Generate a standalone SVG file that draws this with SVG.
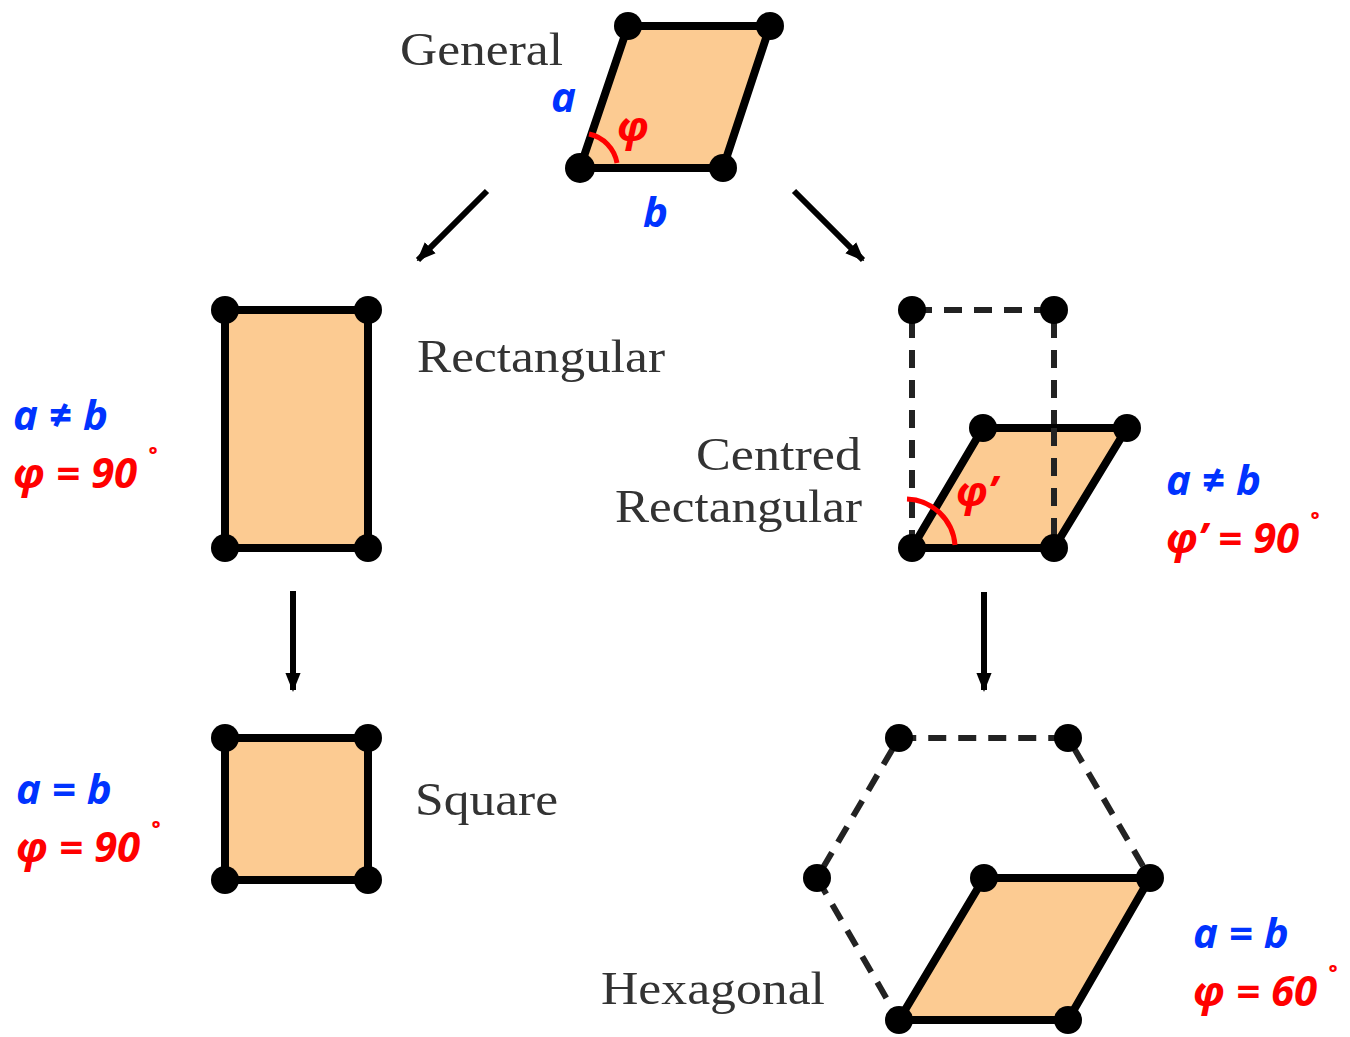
<svg xmlns="http://www.w3.org/2000/svg" width="1350" height="1037" viewBox="0 0 1350 1037">
<defs>
<style>
.cell{fill:#FCCB92;stroke:#000;stroke-width:8;stroke-linejoin:round}
.dash{fill:none;stroke:#222;stroke-width:6;stroke-dasharray:18 12}
.dot{fill:#000}
.name{font-family:"Liberation Serif",serif;font-size:46px;fill:#333}
.lb{font-family:"Open Sans","Liberation Sans",sans-serif;font-weight:bold;font-style:italic;font-size:42px;fill:#0033FF}
.lr{font-family:"Open Sans","Liberation Sans",sans-serif;font-weight:bold;font-style:italic;font-size:42px;fill:#FF0000}
.arc{fill:none;stroke:#FF0000;stroke-width:5}
.conn{stroke:#000;stroke-width:6;fill:none;marker-end:url(#ah)}
</style>
<marker id="ah" viewBox="0 0 10 10" refX="9" refY="5" markerWidth="3.2" markerHeight="3.2" orient="auto" markerUnits="strokeWidth">
<path d="M0,1 L10,5 L0,9 z" fill="#000"/>
</marker>
</defs>
<rect width="1350" height="1037" fill="#fff"/>

<g id="connectors">
<line class="conn" x1="487" y1="191" x2="418" y2="260"/>
<line class="conn" x1="794" y1="191" x2="863" y2="260"/>
<line class="conn" x1="293" y1="591" x2="293" y2="690"/>
<line class="conn" x1="984" y1="592" x2="984" y2="690"/>
</g>

<g id="general">
<polygon class="cell" points="628,26 770,26 723,168 580,168"/>
<circle class="dot" cx="628" cy="26" r="14"/>
<circle class="dot" cx="770" cy="26" r="14"/>
<circle class="dot" cx="723" cy="168" r="14"/>
<circle class="dot" cx="580" cy="168" r="15"/>
<path class="arc" d="M589,134 A36,36 0 0 1 617,163"/>
<text class="name" x="400" y="65" textLength="163" lengthAdjust="spacingAndGlyphs">General</text>
<text class="lb" x="551" y="112">a</text>
<text class="lr" x="617" y="141">φ</text>
<text class="lb" x="643" y="227">b</text>
</g>

<g id="rectangular">
<rect class="cell" x="225" y="310" width="143" height="238"/>
<circle class="dot" cx="225" cy="310" r="14"/>
<circle class="dot" cx="368" cy="310" r="14"/>
<circle class="dot" cx="368" cy="548" r="14"/>
<circle class="dot" cx="225" cy="548" r="14"/>
<text class="name" x="417" y="372" textLength="248" lengthAdjust="spacingAndGlyphs">Rectangular</text>
<text class="lb" x="13" y="430">a ≠ b</text>
<text class="lr" x="13" y="488">φ = 90<tspan dx="8" dy="-16" font-size="30">˚</tspan></text>
</g>

<g id="square">
<rect class="cell" x="225" y="738" width="143" height="142"/>
<circle class="dot" cx="225" cy="738" r="14"/>
<circle class="dot" cx="368" cy="738" r="14"/>
<circle class="dot" cx="368" cy="880" r="14"/>
<circle class="dot" cx="225" cy="880" r="14"/>
<text class="name" x="415" y="815" textLength="143" lengthAdjust="spacingAndGlyphs">Square</text>
<text class="lb" x="16" y="804">a = b</text>
<text class="lr" x="16" y="862">φ = 90<tspan dx="8" dy="-16" font-size="30">˚</tspan></text>
</g>

<g id="centred">
<polyline class="dash" points="912,548 912,310 1054,310 1054,548"/>
<polygon class="cell" points="983,428 1127,428 1054,548 912,548"/>
<line class="dash" x1="1054" y1="428" x2="1054" y2="548"/>
<circle class="dot" cx="912" cy="310" r="14"/>
<circle class="dot" cx="1054" cy="310" r="14"/>
<circle class="dot" cx="983" cy="428" r="14"/>
<circle class="dot" cx="1127" cy="428" r="14"/>
<circle class="dot" cx="1054" cy="548" r="14"/>
<circle class="dot" cx="912" cy="548" r="14"/>
<path class="arc" d="M907,499 A50,50 0 0 1 955,545"/>
<text class="name" x="861" y="470" text-anchor="end" textLength="165" lengthAdjust="spacingAndGlyphs">Centred</text>
<text class="name" x="615" y="522" textLength="247" lengthAdjust="spacingAndGlyphs">Rectangular</text>
<text class="lr" x="956" y="506">φ’</text>
<text class="lb" x="1166" y="495">a ≠ b</text>
<text class="lr" x="1166" y="553">φ’ = 90<tspan dx="8" dy="-16" font-size="30">˚</tspan></text>
</g>

<g id="hexagonal">
<polyline class="dash" points="984,878 1150,878 1068,738 899,738 817,878 899,1020"/>
<polygon class="cell" points="984,878 1150,878 1068,1020 899,1020"/>
<circle class="dot" cx="899" cy="738" r="14"/>
<circle class="dot" cx="1068" cy="738" r="14"/>
<circle class="dot" cx="817" cy="878" r="14"/>
<circle class="dot" cx="984" cy="878" r="14"/>
<circle class="dot" cx="1150" cy="878" r="14"/>
<circle class="dot" cx="1068" cy="1020" r="14"/>
<circle class="dot" cx="899" cy="1020" r="14"/>
<text class="name" x="601" y="1004" textLength="224" lengthAdjust="spacingAndGlyphs">Hexagonal</text>
<text class="lb" x="1193" y="948">a = b</text>
<text class="lr" x="1193" y="1006">φ = 60<tspan dx="8" dy="-16" font-size="30">˚</tspan></text>
</g>
</svg>
